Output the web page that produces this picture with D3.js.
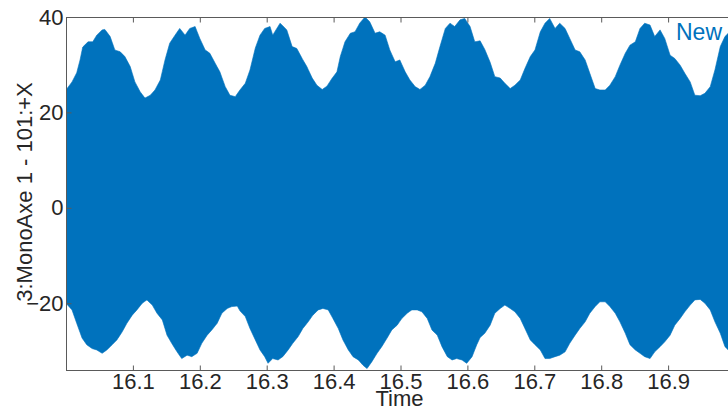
<!DOCTYPE html>
<html>
<head>
<meta charset="utf-8">
<script src="https://cdn.jsdelivr.net/npm/d3@7"></script>
<style>
html,body{margin:0;padding:0;background:#fff;overflow:hidden;}
svg{display:block;font-family:"Liberation Sans",Arial,Helvetica,sans-serif;}
</style>
</head>
<body>
<svg id="chart" width="728" height="407"></svg>
<script>
// Upper envelope of the signal: [time, value]
const upperEnvelope = [
[16.000,24.7],[16.009,26.4],[16.016,28.3],[16.021,31],[16.025,33.7],[16.033,34.8],[16.040,34.8],[16.046,36.2],
[16.054,37.3],[16.058,37.4],[16.066,35.9],[16.073,33.1],[16.081,32.7],[16.088,31.7],[16.096,29.6],[16.103,26.4],
[16.111,24.3],[16.118,23],[16.126,23.6],[16.133,24.7],[16.141,26.8],[16.148,31],[16.155,34.5],[16.163,36.2],
[16.170,37.6],[16.178,36.2],[16.185,37.6],[16.193,38],[16.200,35.5],[16.208,33.1],[16.215,32.4],[16.223,30.3],
[16.230,28.5],[16.238,25.4],[16.245,23.6],[16.253,23.3],[16.260,24.7],[16.268,26.1],[16.275,28.9],[16.283,33.5],
[16.290,36.2],[16.297,37.6],[16.305,38],[16.309,36.2],[16.320,38.7],[16.330,37.3],[16.338,33.8],[16.345,33.4],
[16.353,31.3],[16.360,29.6],[16.368,27.2],[16.375,25.7],[16.383,24.8],[16.390,25.5],[16.398,27.2],[16.405,28.5],
[16.410,31.7],[16.417,34.8],[16.425,36.6],[16.432,36.9],[16.439,38.7],[16.447,40],[16.454,39],[16.462,36.6],
[16.469,36.9],[16.477,36.2],[16.484,33.1],[16.492,30.6],[16.499,31],[16.507,28.5],[16.514,26.8],[16.522,25.4],
[16.529,24.8],[16.537,25.7],[16.544,27.5],[16.552,30.3],[16.559,33.8],[16.567,37.6],[16.574,38.7],[16.581,38],
[16.589,39.4],[16.596,39.7],[16.604,38],[16.611,34.8],[16.619,35],[16.626,33.2],[16.634,30.5],[16.641,27.5],
[16.649,27.2],[16.656,26.1],[16.664,25],[16.671,25.7],[16.679,26.8],[16.686,29.2],[16.694,31.7],[16.701,33.1],
[16.709,36.9],[16.716,38.7],[16.723,39.7],[16.731,37.6],[16.738,38.7],[16.746,37.6],[16.753,35.5],[16.761,33.1],
[16.768,32.7],[16.776,31],[16.783,28.2],[16.791,25],[16.798,24.7],[16.806,24.7],[16.813,25.7],[16.821,27.5],
[16.828,29.9],[16.836,32.4],[16.843,34.1],[16.851,34.8],[16.858,37.6],[16.865,38.7],[16.873,38.3],[16.880,35.9],
[16.888,37.3],[16.895,35.5],[16.903,32],[16.910,31.3],[16.918,29.9],[16.925,28.2],[16.933,26.4],[16.940,23.6],
[16.948,23.5],[16.955,24],[16.963,25.4],[16.970,28.9],[16.978,33.8],[16.985,35.9],[16.990,36.6]
];
// Lower envelope of the signal: [time, value]
const lowerEnvelope = [
[16.000,-20],[16.009,-21.4],[16.016,-24.2],[16.024,-27.3],[16.031,-28.7],[16.039,-29.5],[16.046,-29.8],[16.054,-30.5],
[16.061,-29.8],[16.069,-28.7],[16.076,-27.7],[16.084,-26],[16.091,-24.2],[16.099,-22.5],[16.106,-21.4],[16.114,-20],
[16.121,-19.3],[16.129,-20.4],[16.136,-22.1],[16.144,-23.5],[16.151,-26.7],[16.158,-28.4],[16.166,-30.2],[16.173,-31.6],
[16.181,-30.9],[16.188,-31.2],[16.196,-30.5],[16.203,-28.4],[16.211,-26.7],[16.218,-25.6],[16.226,-24.2],[16.233,-22.1],
[16.241,-21.1],[16.248,-20.7],[16.256,-20.6],[16.260,-21.6],[16.268,-22.8],[16.275,-25.3],[16.283,-27.7],[16.290,-29.8],
[16.297,-31.2],[16.302,-32.6],[16.309,-31.6],[16.317,-31.9],[16.324,-31.2],[16.332,-29.8],[16.339,-28.4],[16.347,-27],
[16.354,-25.3],[16.362,-23.9],[16.369,-22.5],[16.377,-21.4],[16.384,-21.1],[16.392,-21.4],[16.399,-23.2],[16.407,-25.3],
[16.414,-27.7],[16.422,-29.8],[16.429,-31.2],[16.437,-31.9],[16.444,-33],[16.450,-33.7],[16.457,-32.3],[16.465,-30.5],
[16.472,-29.1],[16.480,-27.3],[16.487,-25.6],[16.495,-24.6],[16.502,-23.2],[16.510,-22.1],[16.517,-21.4],[16.525,-21.4],
[16.532,-21.8],[16.540,-23.2],[16.547,-25.6],[16.555,-26.7],[16.562,-29.1],[16.570,-31.2],[16.577,-31.9],[16.584,-31.6],
[16.592,-31.9],[16.599,-32.6],[16.607,-31.2],[16.614,-28.7],[16.619,-27.2],[16.626,-26.3],[16.634,-24.6],[16.641,-22.1],
[16.649,-21.1],[16.656,-20.4],[16.664,-21.1],[16.671,-21.8],[16.679,-23.2],[16.686,-25.3],[16.694,-27.7],[16.701,-28.7],
[16.709,-29.8],[16.716,-31.6],[16.723,-31.6],[16.731,-31.2],[16.738,-30.9],[16.746,-30.2],[16.753,-28.4],[16.761,-26.7],
[16.768,-25.3],[16.776,-23.9],[16.783,-22.1],[16.791,-20.7],[16.798,-19.7],[16.806,-19.7],[16.813,-20.7],[16.821,-22.1],
[16.828,-23.9],[16.836,-26.3],[16.843,-28.7],[16.851,-29.8],[16.858,-30.5],[16.865,-31.2],[16.873,-31.6],[16.880,-30.2],
[16.888,-29.1],[16.895,-28.1],[16.903,-26.7],[16.910,-24.6],[16.918,-23.2],[16.925,-21.8],[16.933,-20.4],[16.940,-19.3],
[16.948,-19.2],[16.955,-20],[16.963,-21.4],[16.970,-23.9],[16.978,-26.3],[16.985,-29.1],[16.990,-29.8]
];
const xTicks = [16.1,16.2,16.3,16.4,16.5,16.6,16.7,16.8,16.9];
const yTicks = [-20,0,20,40];
const seriesName = "New";
const xLabel = "Time";
const yLabel = "3:MonoAxe 1 - 101:+X";

const svg = d3.select("#chart");
const L = 66, R = 735, T = 17, B = 370;
const x = d3.scaleLinear().domain([16,17]).range([L,R]);
const y = d3.scaleLinear().domain([-34,40]).range([B,T]);
const blue = "#0072BD";
const axisColor = "#5a5a5a";
const textColor = "#262626";

const times = Array.from(new Set(upperEnvelope.map(d=>d[0]).concat(lowerEnvelope.map(d=>d[0])))).sort((a,b)=>a-b);
function interp(arr, t){
  const i = d3.bisector(d=>d[0]).left(arr, t);
  if (i<=0) return arr[0][1];
  if (i>=arr.length) return arr[arr.length-1][1];
  const a = arr[i-1], b = arr[i];
  if (b[0]===t) return b[1];
  return a[1] + (b[1]-a[1])*(t-a[0])/(b[0]-a[0]);
}
const band = times.map(t=>({t, hi: interp(upperEnvelope,t), lo: interp(lowerEnvelope,t)}));

svg.append("clipPath").attr("id","clip").append("rect")
  .attr("x",L).attr("y",T).attr("width",R-L).attr("height",B-T);

svg.append("path").datum(band)
  .attr("clip-path","url(#clip)")
  .attr("fill",blue)
  .attr("stroke",blue).attr("stroke-width",0.6)
  .attr("d", d3.area().x(d=>x(d.t)).y0(d=>y(d.lo)).y1(d=>y(d.hi)));

// axes box
const g = svg.append("g");
g.append("line").attr("x1",L).attr("x2",R).attr("y1",B+0.5).attr("y2",B+0.5).attr("stroke",axisColor);
g.append("line").attr("x1",L).attr("x2",R).attr("y1",T+0.5).attr("y2",T+0.5).attr("stroke",axisColor);
g.append("line").attr("x1",L+0.5).attr("x2",L+0.5).attr("y1",T).attr("y2",B+1).attr("stroke",axisColor);

// x ticks (inside, top and bottom)
const xAxisB = d3.axisBottom(x).tickValues(xTicks).tickSize(-5).tickPadding(3).tickFormat(d3.format(".1f"));
const gx = svg.append("g").attr("transform",`translate(0,${B+0.5})`).call(xAxisB);
gx.select(".domain").remove();
gx.selectAll(".tick line").attr("stroke",axisColor);
gx.selectAll(".tick text").attr("fill",textColor).style("font-size","22px").attr("dy","0.71em");
const gxt = svg.append("g").attr("transform",`translate(0,${T+0.5})`).call(d3.axisTop(x).tickValues(xTicks).tickSize(-5).tickFormat(""));
gxt.select(".domain").remove();
gxt.selectAll(".tick line").attr("stroke",axisColor);

// y ticks
const gy = svg.append("g").attr("transform",`translate(${L+0.5},0)`).call(d3.axisLeft(y).tickValues(yTicks).tickSize(-5).tickPadding(3));
gy.select(".domain").remove();
gy.selectAll(".tick line").attr("stroke",axisColor);
gy.selectAll(".tick text").attr("fill",textColor).style("font-size","22px");

// labels
svg.append("text").attr("x",(L+R)/2 - 1).attr("y",406).attr("text-anchor","middle")
  .attr("fill",textColor).style("font-size","22px").text(xLabel);
svg.append("text").attr("transform",`translate(32,192) rotate(-90)`).attr("text-anchor","middle")
  .attr("fill",textColor).style("font-size","22px").text(yLabel);

// legend
svg.append("text").attr("x",722).attr("y",40).attr("text-anchor","end")
  .attr("fill",blue).style("font-size","23px").text(seriesName);
</script>
</body>
</html>
